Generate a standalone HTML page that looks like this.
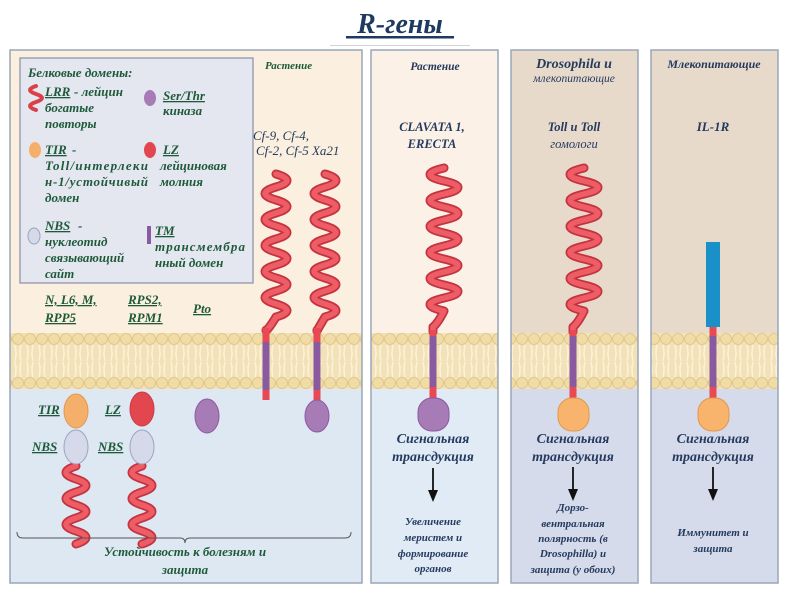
<!DOCTYPE html>
<html><head><meta charset="utf-8"><style>
body{margin:0;background:#fff;}
svg{display:block;}
.s{font-family:"Liberation Serif","DejaVu Serif",serif;font-style:italic;font-weight:bold;}
.g{fill:#1e5a3a;}
.n{fill:#243a5e;}
</style></head><body>
<svg width="800" height="600" viewBox="0 0 800 600" xmlns="http://www.w3.org/2000/svg">
<defs>
<pattern id="mem" x="0" y="333" width="12" height="56" patternUnits="userSpaceOnUse">
<rect width="12" height="56" fill="#f3e2b8"/>
<circle cx="6" cy="6" r="5.5" fill="#f1dca6" stroke="#dcc384" stroke-width="0.8"/>
<circle cx="6" cy="50" r="5.5" fill="#f1dca6" stroke="#dcc384" stroke-width="0.8"/>
<path d="M3 12 q2 8 0 16 M9 12 q-2 8 0 16 M3 29 q2 8 0 15 M9 29 q-2 8 0 15" stroke="#fbf3dc" stroke-width="1.5" fill="none"/>
</pattern>
</defs>
<text x="400" y="33" text-anchor="middle" class="s" font-size="28" fill="#1f3a60">R-гены</text>
<rect x="346" y="36" width="108" height="2.5" fill="#1f3a60"/>
<rect x="330" y="45" width="140" height="1" fill="#cfd3dc"/>

<rect x="10" y="50" width="352" height="283" fill="#fbefdf"/>
<rect x="10" y="389" width="352" height="194" fill="#dde8f2"/>
<rect x="10" y="333" width="352" height="56" fill="url(#mem)"/>
<rect x="10" y="50" width="352" height="533" fill="none" stroke="#9aa6b8" stroke-width="1.5"/>
<rect x="371" y="50" width="127" height="283" fill="#fbf1e6"/>
<rect x="371" y="389" width="127" height="194" fill="#e0ebf5"/>
<rect x="371" y="333" width="127" height="56" fill="url(#mem)"/>
<rect x="371" y="50" width="127" height="533" fill="none" stroke="#9aa6b8" stroke-width="1.5"/>
<rect x="511" y="50" width="127" height="283" fill="#e8dacb"/>
<rect x="511" y="389" width="127" height="194" fill="#d5dbea"/>
<rect x="511" y="333" width="127" height="56" fill="url(#mem)"/>
<rect x="511" y="50" width="127" height="533" fill="none" stroke="#9aa6b8" stroke-width="1.5"/>
<rect x="651" y="50" width="127" height="283" fill="#e8dacb"/>
<rect x="651" y="389" width="127" height="194" fill="#d5dbea"/>
<rect x="651" y="333" width="127" height="56" fill="url(#mem)"/>
<rect x="651" y="50" width="127" height="533" fill="none" stroke="#9aa6b8" stroke-width="1.5"/>

<rect x="20" y="58" width="233" height="225" fill="#e4e6f0" stroke="#8a8ea8" stroke-width="1.2"/>
<g class="s g" font-size="13">
<text x="28" y="77">Белковые домены:</text>
<text x="45" y="96" text-decoration="underline">LRR</text><text x="74" y="96">- лейцин</text>
<text x="45" y="112">богатые</text>
<text x="45" y="128">повторы</text>
<text x="163" y="100" text-decoration="underline">Ser/Thr</text>
<text x="163" y="115">киназа</text>
<text x="45" y="154" text-decoration="underline">TIR</text><text x="72" y="154">-</text>
<text x="45" y="170" textLength="103">Toll/интерлеки</text>
<text x="45" y="186" textLength="103">н-1/устойчивый</text>
<text x="45" y="202">домен</text>
<text x="163" y="154" text-decoration="underline">LZ</text>
<text x="160" y="170">лейциновая</text>
<text x="160" y="186">молния</text>
<text x="45" y="230" text-decoration="underline">NBS</text><text x="78" y="230">-</text>
<text x="45" y="246">нуклеотид</text>
<text x="45" y="262">связывающий</text>
<text x="45" y="278">сайт</text>
<text x="155" y="235" text-decoration="underline">TM</text>
<text x="155" y="251" textLength="90">трансмембра</text>
<text x="155" y="267">нный домен</text>
<text x="45" y="304" text-decoration="underline">N, L6, M,</text>
<text x="45" y="322" text-decoration="underline">RPP5</text>
<text x="128" y="304" text-decoration="underline">RPS2,</text>
<text x="128" y="322" text-decoration="underline">RPM1</text>
<text x="193" y="313" text-decoration="underline">Pto</text>
<text x="265" y="69" font-size="11">Растение</text>
<text x="38" y="414" text-decoration="underline">TIR</text>
<text x="32" y="451" text-decoration="underline">NBS</text>
<text x="105" y="414" text-decoration="underline">LZ</text>
<text x="98" y="451" text-decoration="underline">NBS</text>
<text x="185" y="556" text-anchor="middle" font-size="13">Устойчивость к болезням и</text>
<text x="185" y="574" text-anchor="middle" font-size="13">защита</text>
</g>
<path d="M36 86 q-12 4 0 8 t0 8 t0 8" stroke="#d8404a" stroke-width="4" fill="none" stroke-linecap="round"/>
<ellipse cx="150" cy="98" rx="6" ry="8" fill="#a77bb5"/>
<ellipse cx="35" cy="150" rx="6" ry="8" fill="#f4b06a"/>
<ellipse cx="150" cy="150" rx="6" ry="8" fill="#e2474f"/>
<ellipse cx="34" cy="236" rx="6" ry="8" fill="#d6d9ea" stroke="#9ea3bf"/>
<rect x="147" y="226" width="4" height="18" fill="#8a5aa0"/>

<g font-family="Liberation Serif,serif" font-style="italic" font-size="13" fill="#243a5e">
<text x="253" y="140">Cf-9, Cf-4,</text>
<text x="256" y="155">Cf-2, Cf-5 Xa21</text>
</g>

<g fill="none" stroke-linecap="round" stroke-linejoin="round">
<g stroke="#c43440" stroke-width="9">
<path id="w1" d="M276 174 q22 6.5 0 13 t0 13 t0 13 t0 13 t0 13 t0 13 t0 13 t0 13 t0 13 t0 13 t0 13 q-6 10 -10 14 L266 330"/>
<path id="w2" d="M325 174 q22 6.5 0 13 t0 13 t0 13 t0 13 t0 13 t0 13 t0 13 t0 13 t0 13 t0 13 t0 13 q-6 10 -8 14 L317 330"/>
<path id="w3" d="M444 168 q-28 6.5 0 13 t0 13 t0 13 t0 13 t0 13 t0 13 t0 13 t0 13 t0 13 t0 13 t0 13 q-6 12 -11 16 L433 332"/>
<path id="w4" d="M584 168 q-28 6.5 0 13 t0 13 t0 13 t0 13 t0 13 t0 13 t0 13 t0 13 t0 13 t0 13 t0 13 q-6 12 -11 16 L573 332"/>
<path id="w5" d="M76 466 q-20 6.5 0 13 t0 13 t0 13 t0 13 t0 13 t0 13"/>
<path id="w6" d="M142 466 q-20 6.5 0 13 t0 13 t0 13 t0 13 t0 13 t0 13"/>
</g>
<g stroke="#ee5d66" stroke-width="5.5">
<use href="#w1"/><use href="#w2"/><use href="#w3"/><use href="#w4"/><use href="#w5"/><use href="#w6"/>
</g>
</g>
<g stroke-width="7">
<line x1="266" y1="328" x2="266" y2="342" stroke="#e84a55"/>
<line x1="266" y1="342" x2="266" y2="390" stroke="#8a5aa0"/>
<line x1="266" y1="390" x2="266" y2="400" stroke="#e84a55"/>
<line x1="317" y1="328" x2="317" y2="342" stroke="#e84a55"/>
<line x1="317" y1="342" x2="317" y2="390" stroke="#8a5aa0"/>
<line x1="317" y1="390" x2="317" y2="402" stroke="#e84a55"/>
<line x1="433" y1="330" x2="433" y2="336" stroke="#e84a55"/>
<line x1="433" y1="336" x2="433" y2="387" stroke="#8a5aa0"/>
<line x1="433" y1="387" x2="433" y2="400" stroke="#e84a55"/>
<line x1="573" y1="330" x2="573" y2="336" stroke="#e84a55"/>
<line x1="573" y1="336" x2="573" y2="387" stroke="#8a5aa0"/>
<line x1="573" y1="387" x2="573" y2="400" stroke="#e84a55"/>
<line x1="713" y1="326" x2="713" y2="336" stroke="#e84a55"/>
<line x1="713" y1="336" x2="713" y2="387" stroke="#8a5aa0"/>
<line x1="713" y1="387" x2="713" y2="400" stroke="#e84a55"/>
</g>
<rect x="706" y="242" width="14" height="85" fill="#1a90c8"/>
<ellipse cx="317" cy="416" rx="12" ry="16" fill="#a77bb5" stroke="#8a5aa0"/>
<ellipse cx="207" cy="416" rx="12" ry="17" fill="#a77bb5" stroke="#8a5aa0"/>
<ellipse cx="76" cy="411" rx="12" ry="17" fill="#f4b06a" stroke="#e0984e"/>
<ellipse cx="76" cy="447" rx="12" ry="17" fill="#d6d9ea" stroke="#9ea3bf"/>
<ellipse cx="142" cy="409" rx="12" ry="17" fill="#e2474f" stroke="#c83a42"/>
<ellipse cx="142" cy="447" rx="12" ry="17" fill="#d6d9ea" stroke="#9ea3bf"/>
<rect x="418" y="398" width="31" height="33" rx="14" fill="#a77bb5" stroke="#8a5aa0"/>
<rect x="558" y="398" width="31" height="33" rx="14" fill="#f8b46c" stroke="#e0984e"/>
<rect x="698" y="398" width="31" height="33" rx="14" fill="#f8b46c" stroke="#e0984e"/>

<path d="M17 532 q0 6 6 6 L180 538 q5 0 5 5 q0 -5 5 -5 L345 538 q6 0 6 -6" fill="none" stroke="#555" stroke-width="1"/>

<g class="s n" text-anchor="middle">
<text x="435" y="70" font-size="11.5">Растение</text>
<text x="432" y="131" font-size="12.5">CLAVATA 1,</text>
<text x="432" y="148" font-size="12.5">ERECTA</text>
<text x="574" y="68" font-size="14">Drosophila и</text>
<text x="574" y="82" font-size="11.5" font-weight="normal">млекопитающие</text>
<text x="574" y="131" font-size="12.5">Toll и Toll</text>
<text x="574" y="148" font-size="12.5" font-weight="normal">гомологи</text>
<text x="714" y="68" font-size="12">Млекопитающие</text>
<text x="713" y="131" font-size="13">IL-1R</text>
<g font-size="14">
<text x="433" y="443">Сигнальная</text><text x="433" y="461">трансдукция</text>
<text x="573" y="443">Сигнальная</text><text x="573" y="461">трансдукция</text>
<text x="713" y="443">Сигнальная</text><text x="713" y="461">трансдукция</text>
</g>
<g font-size="11">
<text x="433" y="525">Увеличение</text><text x="433" y="541">меристем и</text><text x="433" y="557">формирование</text><text x="433" y="572">органов</text>
<text x="573" y="511">Дорзо-</text><text x="573" y="527">вентральная</text><text x="573" y="542">полярность (в</text><text x="573" y="557">Drosophilla) и</text><text x="573" y="573">защита (у обоих)</text>
<text x="713" y="536">Иммунитет и</text><text x="713" y="552">защита</text>
</g>
</g>
<g stroke="#111" stroke-width="1.8">
<line x1="433" y1="468" x2="433" y2="492"/>
<line x1="573" y1="467" x2="573" y2="491"/>
<line x1="713" y1="467" x2="713" y2="491"/>
</g>
<g fill="#111">
<path d="M428 490 L438 490 L433 502 Z"/>
<path d="M568 489 L578 489 L573 501 Z"/>
<path d="M708 489 L718 489 L713 501 Z"/>
</g>
</svg>
</body></html>
